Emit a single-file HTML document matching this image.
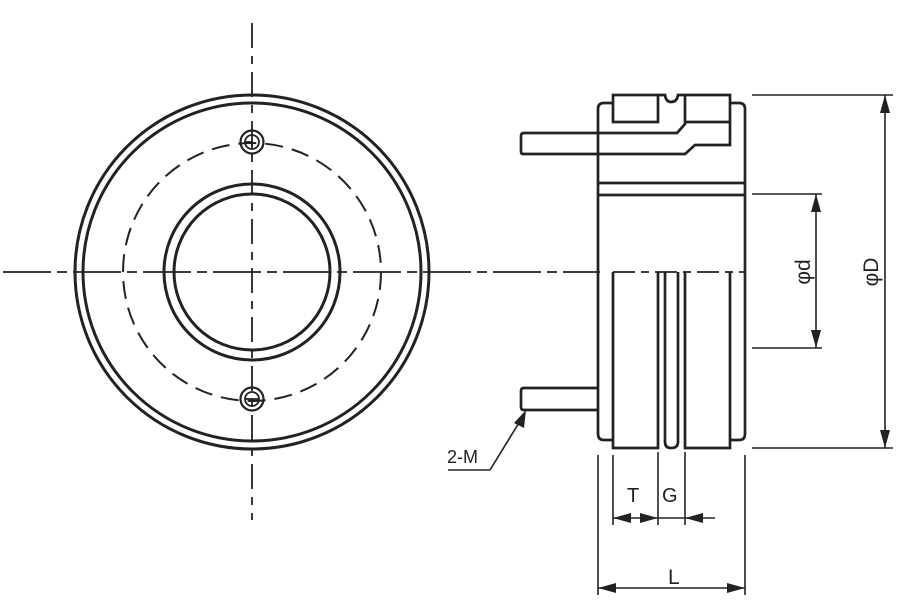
<!DOCTYPE html>
<html><head><meta charset="utf-8"><style>
html,body{margin:0;padding:0;background:#fff;}
svg{display:block;}
text{font-family:"Liberation Sans",sans-serif;fill:#222;}
</style></head><body>
<svg width="905" height="601" viewBox="0 0 905 601" xmlns="http://www.w3.org/2000/svg">
<g fill="none" stroke="#222">
<line x1="3" y1="272" x2="600" y2="272" stroke-width="1.8" stroke-dasharray="48,6,10,6"/>
<line x1="613" y1="272" x2="745" y2="272" stroke-width="1.8" stroke-dasharray="22,6,8,6"/>
<line x1="252" y1="23" x2="252" y2="520" stroke-width="1.8" stroke-dasharray="25,8,8,8"/>
<circle cx="252" cy="272" r="177" stroke-width="3"/>
<circle cx="252" cy="272" r="169" stroke-width="3"/>
<circle cx="252" cy="272" r="129" stroke-width="2" stroke-dasharray="18,9"/>
<circle cx="252" cy="272" r="88" stroke-width="3"/>
<circle cx="252" cy="272" r="78" stroke-width="3"/>
<circle cx="252" cy="142" r="11.5" stroke-width="2.2"/>
<circle cx="252" cy="142" r="7" stroke-width="1.8"/>
<path d="M245 142 H252 V149" stroke-width="1.8"/>
<circle cx="252" cy="399" r="11.5" stroke-width="2.2"/>
<circle cx="252" cy="399" r="7" stroke-width="1.8"/>
<line x1="245" y1="399" x2="259" y2="399" stroke-width="1.8"/>

<g stroke-width="2.7">
<path d="M604 103 H613 M730 103 H739 Q745 103 745 109 V434 Q745 440 739 440 H730 M613 440 H604 Q598 440 598 434 V109 Q598 103 604 103"/>
<rect x="613" y="95" width="45" height="27"/>
<path d="M658 95 H665 Q666 102 671 102 Q677 102 678 95 H685"/>
<path d="M685 95 H730 V145 H695 L685 154 H523 Q521 154 521 151 V136 Q521 133 524 133 H677 L685 124 V95"/>
<line x1="685" y1="122" x2="730" y2="122"/>
<line x1="598" y1="183" x2="745" y2="183"/>
<line x1="598" y1="195" x2="745" y2="195"/>
<path d="M613 272 V448 H658 V272"/>
<path d="M665 272 V442 Q665 448 671 448 Q678 448 678 442 V272"/>
<path d="M685 272 V448 H730 V272"/>
<path d="M598 388 H524 Q521 388 521 391 V407 Q521 410 524 410 H598"/>
</g>

<g stroke-width="1.6">
<line x1="752" y1="95" x2="893" y2="95"/>
<line x1="752" y1="448" x2="893" y2="448"/>
<line x1="752" y1="194" x2="822" y2="194"/>
<line x1="752" y1="348" x2="822" y2="348"/>
<line x1="885" y1="95" x2="885" y2="448"/>
<line x1="816" y1="194" x2="816" y2="348"/>
<line x1="598" y1="455" x2="598" y2="595"/>
<line x1="745" y1="455" x2="745" y2="595"/>
<line x1="613" y1="455" x2="613" y2="525"/>
<line x1="658" y1="452" x2="658" y2="525"/>
<line x1="685" y1="452" x2="685" y2="525"/>
<line x1="613" y1="518" x2="715" y2="518"/>
<line x1="598" y1="588" x2="745" y2="588"/>
<path d="M490 470 H448 M490 470 L525 413"/>
</g>
<g fill="#222" stroke="none">
<path d="M885 95 l-5 18 h10z"/>
<path d="M885 448 l-5 -18 h10z"/>
<path d="M816 194 l-5 18 h10z"/>
<path d="M816 348 l-5 -18 h10z"/>
<path d="M613 518 l18 -5 v10z"/>
<path d="M658 518 l-18 -5 v10z"/>
<path d="M685 518 l18 -5 v10z"/>
<path d="M598 588 l18 -5 v10z"/>
<path d="M745 588 l-18 -5 v10z"/>
<path d="M526 410 l-12 13 l10 5z"/>
</g>
</g>
<text x="447" y="463" font-size="18">2-M</text>
<text x="627" y="502" font-size="20">T</text>
<text x="662" y="502" font-size="20">G</text>
<text x="668" y="584" font-size="21">L</text>
<text transform="translate(810,272) rotate(-90)" text-anchor="middle" font-size="21">φd</text>
<text transform="translate(878,272) rotate(-90)" text-anchor="middle" font-size="21">φD</text>
</svg>
</body></html>
